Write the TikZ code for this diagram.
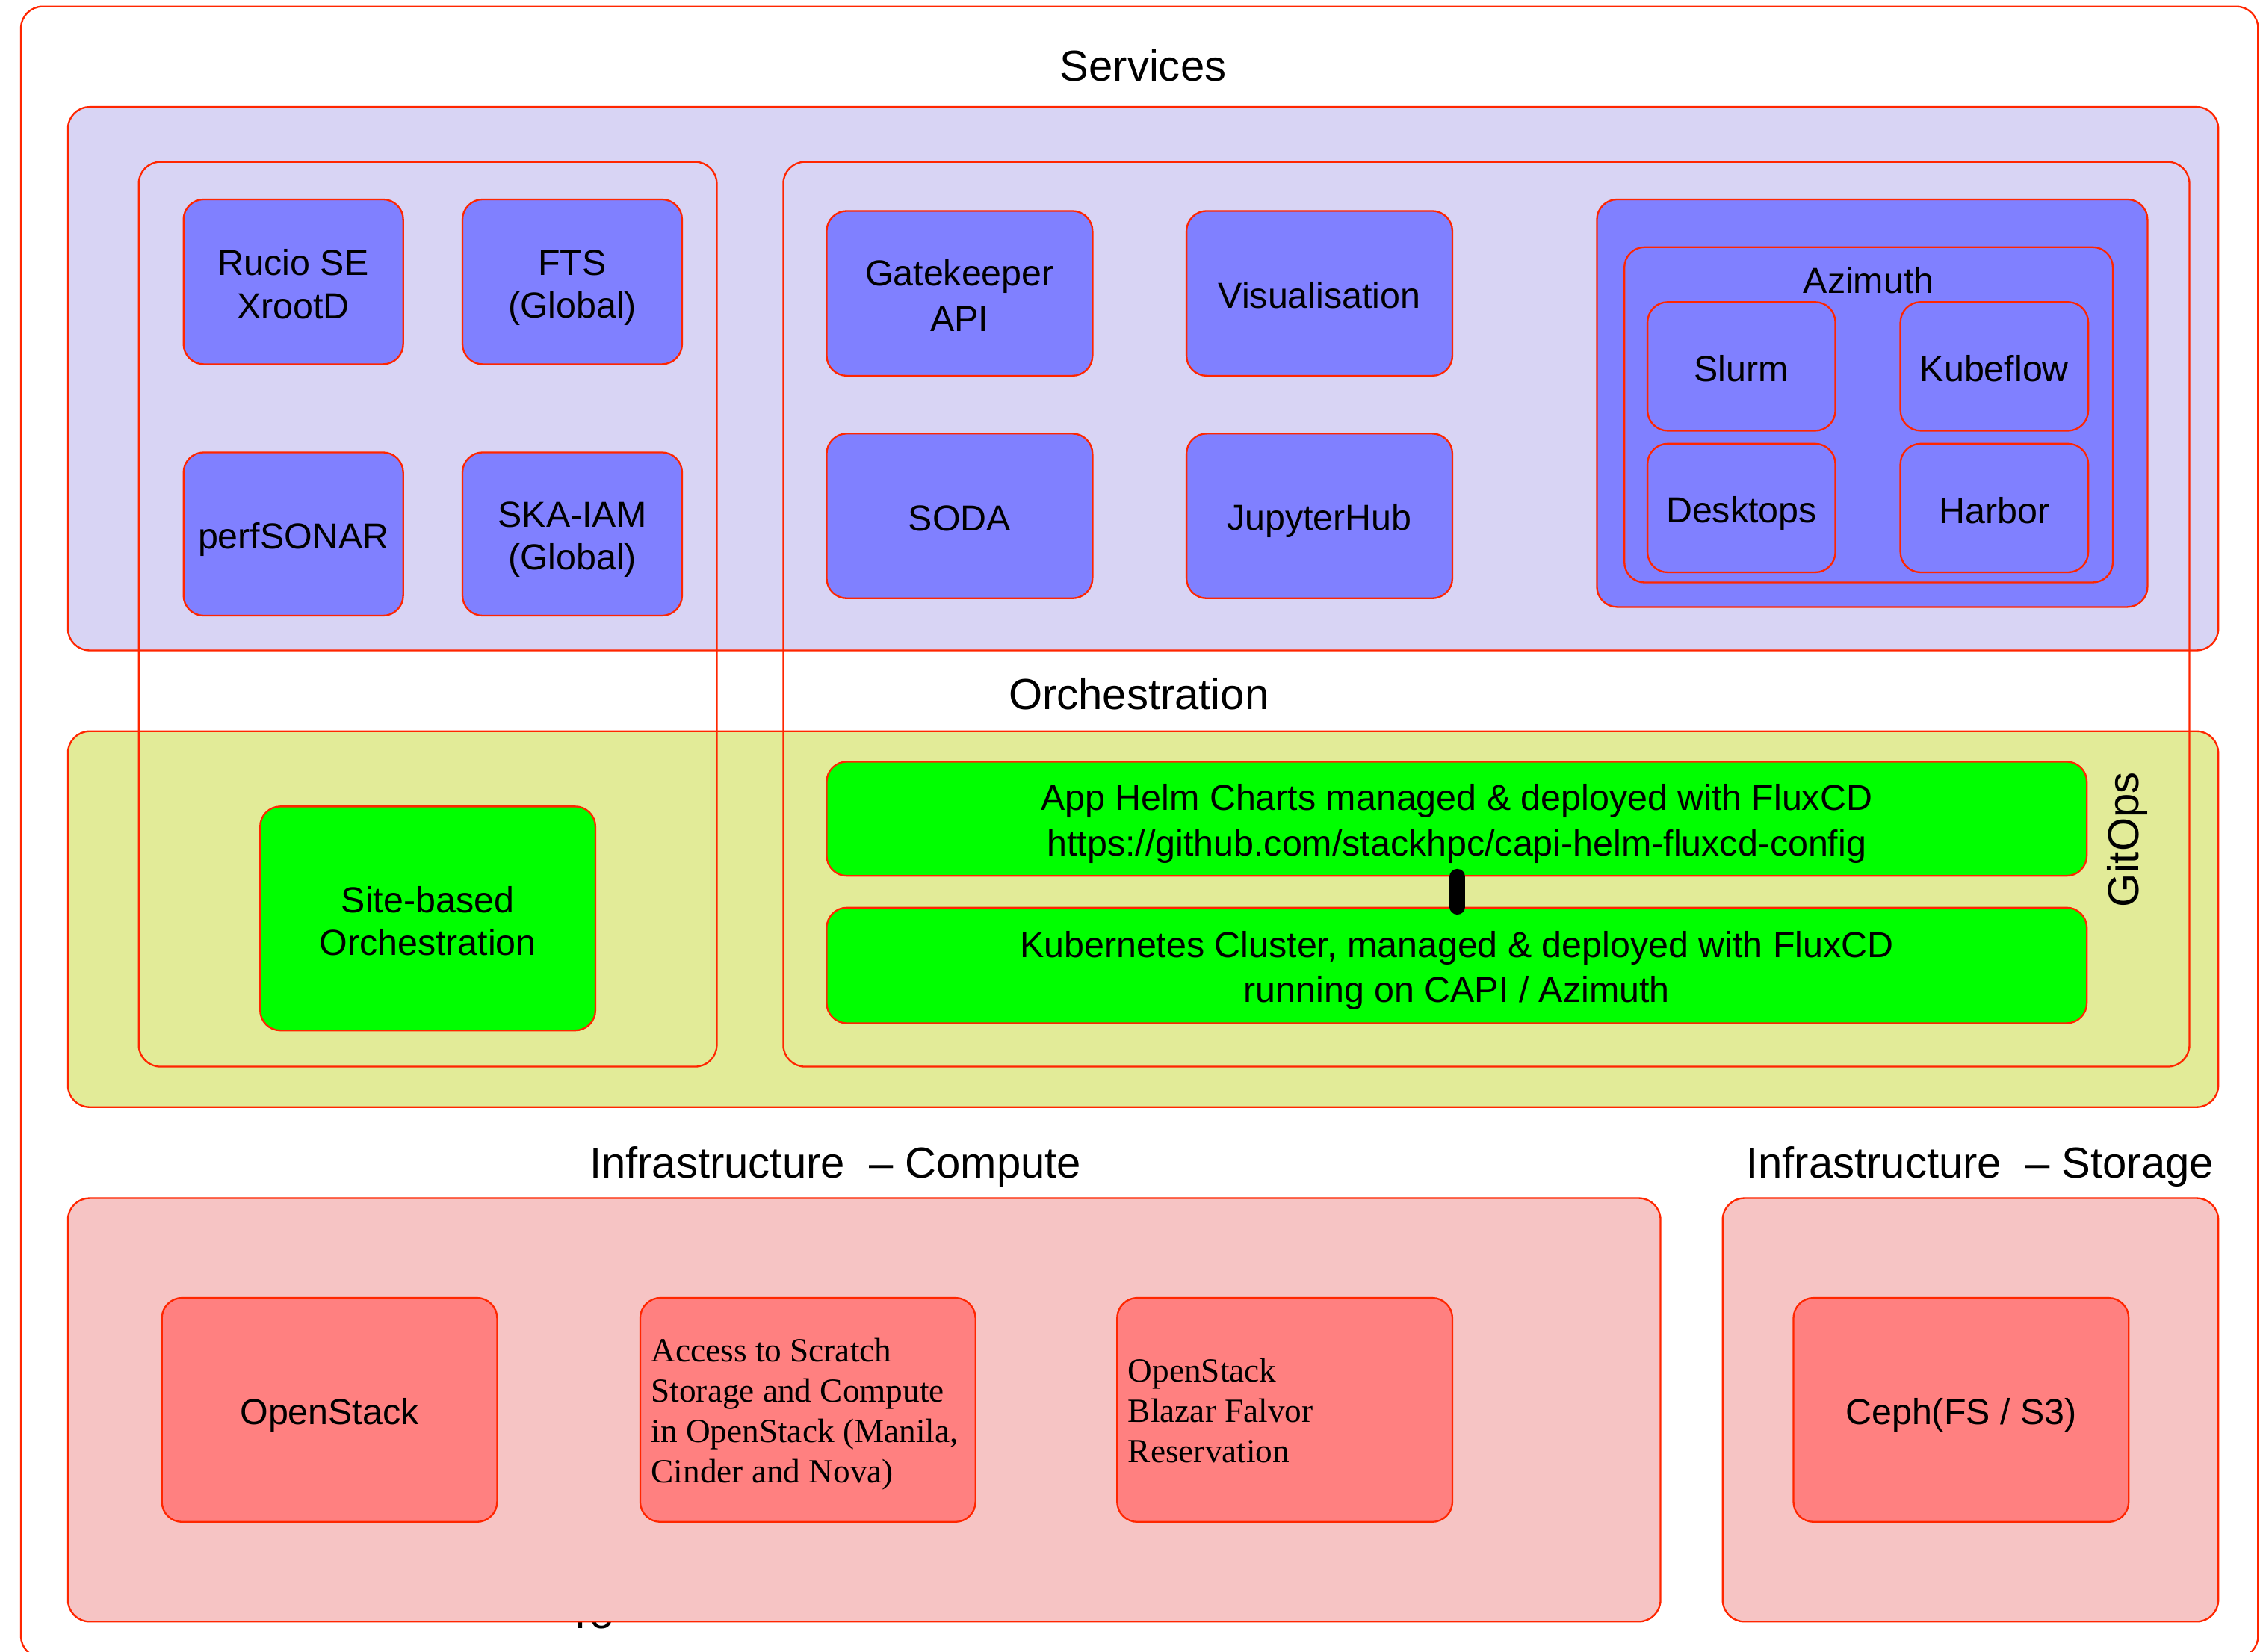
\documentclass[tikz,border=0pt]{standalone}
\usepackage{fontspec}
\setmainfont{Liberation Sans}
\newfontfamily\timesfont{Liberation Serif}
\definecolor{redline}{RGB}{255,38,0}
\definecolor{lavender}{RGB}{216,212,244}
\definecolor{bluebox}{RGB}{128,128,255}
\definecolor{olive}{RGB}{226,235,152}
\definecolor{greenbox}{RGB}{0,255,0}
\definecolor{pinkpanel}{RGB}{246,196,196}
\definecolor{salmon}{RGB}{255,128,128}
\newcommand{\bs}{\rule[-4.25pt]{0pt}{29.5pt}}
\newcommand{\tstr}{\rule[-5.5pt]{0pt}{28pt}}
\begin{document}
\begin{tikzpicture}[x=1pt,y=-1pt,
  frame/.style={draw=redline, line width=1.2pt, rounded corners=15pt},
  panel/.style={frame, fill=#1},
  box/.style={draw=redline, line width=1.2pt, rounded corners=14pt, fill=#1,
    align=center, inner sep=0pt, font=\fontsize{25}{29.5}\selectfont},
  seriftext/.style={anchor=west, align=left, inner sep=0pt,
    font=\timesfont\fontsize{23.4}{28}\selectfont},
  title/.style={font=\fontsize{30}{36}\selectfont, anchor=base, inner sep=0pt},
  conn/.style={draw=black, line width=10.8pt, line cap=round}]
\useasboundingbox (0,0) rectangle (1568,1143);
\clip (0,0) rectangle (1568,1143);
\fill[white] (0,0) rectangle (1568,1143);
% outer frame
\draw[frame] (14.5,4.5) rectangle (1562.5,1147);
% titles
\node[title] (tserv) at (791,56) {Services};
\node[title] (torch) at (788,491) {Orchestration};
\node[title] (tcomp) at (578,815) {Infrastructure\ \ – Compute};
\node[title] (tstor) at (1370,815) {Infrastructure\ \ – Storage};
% panels
\draw[panel=lavender] (47,74) rectangle (1535,450);
\draw[panel=olive] (47,506) rectangle (1535,766);
\node[title, anchor=base west] (frag) at (398,1126.5) {ro};
\draw[panel=pinkpanel] (47,829) rectangle (1149,1122);
\draw[panel=pinkpanel] (1192,829) rectangle (1535,1122);
% tall groups
\draw[frame] (96,112) rectangle (496,738);
\draw[frame] (542,112) rectangle (1515,738);
% services
\node[box=bluebox, minimum width=152pt, minimum height=114pt] (rucio) at (203,195) {\bs Rucio SE\\\bs XrootD};
\node[box=bluebox, minimum width=152pt, minimum height=114pt] (fts) at (396,195) {\bs FTS\\\bs (Global)};
\node[box=bluebox, minimum width=152pt, minimum height=113pt] (perf) at (203,369.5) {\bs perfSONAR};
\node[box=bluebox, minimum width=152pt, minimum height=113pt] (iam) at (396,369.5) {\bs SKA-IAM\\\bs (Global)};
\node[box=bluebox, minimum width=184pt, minimum height=114pt] (gate) at (664,203) {\bs Gatekeeper\\\bs API};
\node[box=bluebox, minimum width=184pt, minimum height=114pt] (vis) at (913,203) {\bs Visualisation};
\node[box=bluebox, minimum width=184pt, minimum height=114pt] (soda) at (664,357) {\bs SODA};
\node[box=bluebox, minimum width=184pt, minimum height=114pt] (jup) at (913,357) {\bs JupyterHub};
\node[box=bluebox, minimum width=381pt, minimum height=282pt] (azout) at (1295.5,279) {};
\node[box=bluebox, minimum width=338pt, minimum height=232pt] (azin) at (1293,287) {};
\node[anchor=base, inner sep=0pt, font=\fontsize{25}{29.5}\selectfont] (azlabel) at (1293,203) {Azimuth};
\node[box=bluebox, minimum width=130pt, minimum height=89pt] (slurm) at (1205,253.5) {\bs Slurm};
\node[box=bluebox, minimum width=130pt, minimum height=89pt] (kubeflow) at (1380,253.5) {\bs Kubeflow};
\node[box=bluebox, minimum width=130pt, minimum height=89pt] (desk) at (1205,351.5) {\bs Desktops};
\node[box=bluebox, minimum width=130pt, minimum height=89pt] (harbor) at (1380,351.5) {\bs Harbor};
% orchestration
\node[box=greenbox, minimum width=232pt, minimum height=155pt] (site) at (296,635.5) {\bs Site-based\\\bs Orchestration};
\node[box=greenbox, minimum width=872pt, minimum height=79pt] (helm) at (1008,566.5) {\bs App Helm Charts managed \& deployed with FluxCD\\\bs https://github.com/stackhpc/capi-helm-fluxcd-config};
\node[box=greenbox, minimum width=872pt, minimum height=80pt] (kube) at (1008,668) {\bs Kubernetes Cluster, managed \& deployed with FluxCD\\\bs running on CAPI / Azimuth};
\coordinate (cx) at (1008.5,0);
\draw[conn] (helm.south -| cx) -- (kube.north -| cx);
\node[rotate=90, inner sep=0pt, font=\fontsize{30}{36}\selectfont] (gitops) at (1472,581) {GitOps};
% infrastructure
\node[box=salmon, minimum width=232pt, minimum height=155pt] (openstack) at (228,975.5) {\bs OpenStack};
\node[box=salmon, minimum width=232pt, minimum height=155pt] (scratch) at (559,975.5) {};
\node[seriftext] (scratchtext) at ([xshift=8pt]scratch.west) {\tstr Access to Scratch\\\tstr Storage and Compute\\\tstr in OpenStack (Manila,\\\tstr Cinder and Nova)};
\node[box=salmon, minimum width=232pt, minimum height=155pt] (blazar) at (889,975.5) {};
\node[seriftext] (blazartext) at ([xshift=8pt]blazar.west) {\tstr OpenStack\\\tstr Blazar Falvor\\\tstr Reservation};
\node[box=salmon, minimum width=232pt, minimum height=155pt] (ceph) at (1357,975.5) {\bs Ceph(FS / S3)};
\end{tikzpicture}
\end{document}
